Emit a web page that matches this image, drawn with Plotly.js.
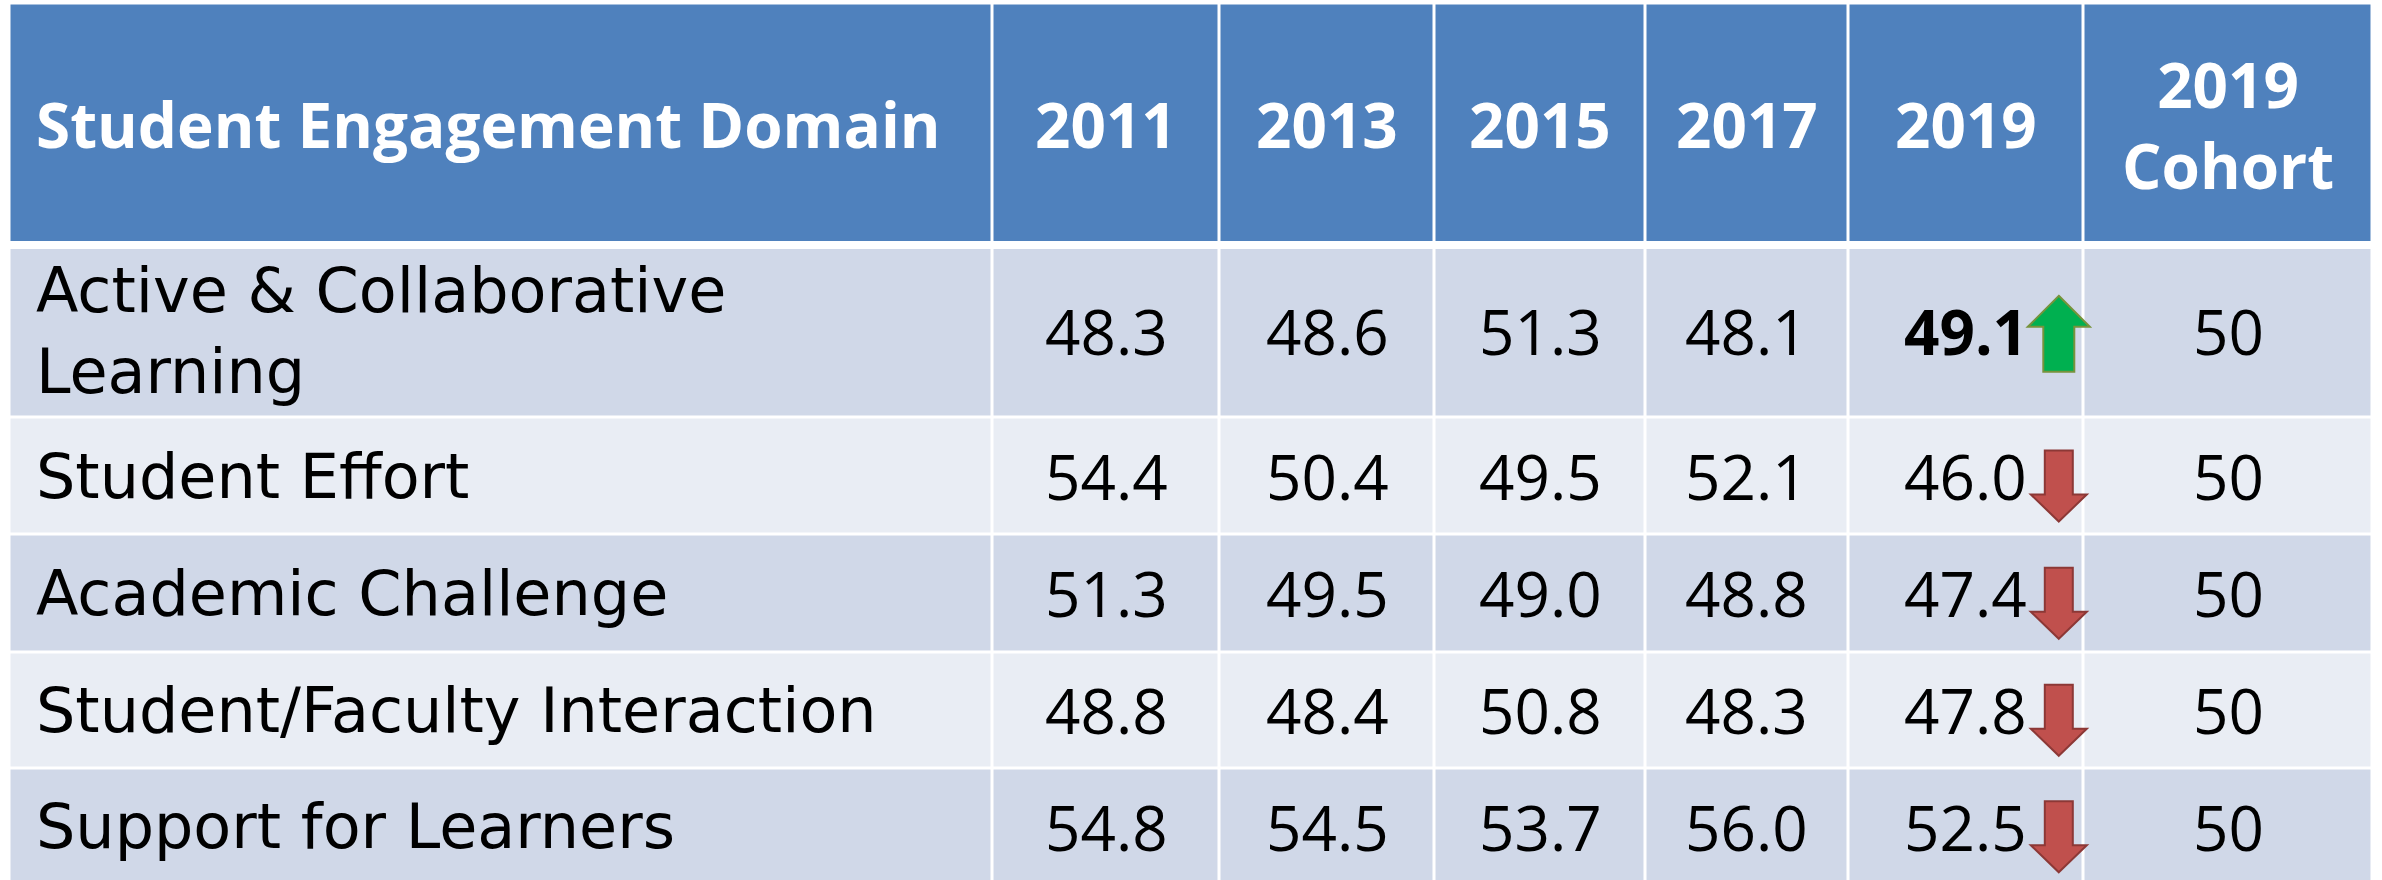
<!DOCTYPE html>
<html>
<head>
<meta charset="utf-8">
<script src="https://cdn.plot.ly/plotly-3.0.1.min.js"></script>
<style>html,body{margin:0;padding:0;background:#fff;overflow:hidden}</style>
</head>
<body>
<div id="chart" style="width:2382px;height:880px"></div>
<script>
// ---------- DATA ----------
const headerLabel = 'Student Engagement Domain';
const columnHeaders = ['2011', '2013', '2015', '2017', '2019', '2019<br>Cohort'];
const domains = [
  'Active & Collaborative<br>Learning',
  'Student Effort',
  'Academic Challenge',
  'Student/Faculty Interaction',
  'Support for Learners'
];
const v2011 = [48.3, 54.4, 51.3, 48.8, 54.8];
const v2013 = [48.6, 50.4, 49.5, 48.4, 54.5];
const v2015 = [51.3, 49.5, 49.0, 50.8, 53.7];
const v2017 = [48.1, 52.1, 48.8, 48.3, 56.0];
const v2019 = [49.1, 46.0, 47.4, 47.8, 52.5];
const cohort2019 = [50, 50, 50, 50, 50];
const trend2019 = ['up', 'down', 'down', 'down', 'down'];
const bold2019 = [true, false, false, false, false];

// ---------- GEOMETRY / STYLE ----------
const colEdges = [9.5, 992.5, 1219.5, 1434.5, 1645.5, 1848, 2083.5, 2372.5];
const rowEdges = [3.5, 245, 417.5, 534.5, 652, 768.5, 885];
const HEADER_BLUE = '#4F81BD', BAND1 = '#D0D8E8', BAND2 = '#E9EDF4';
const labelFont = {family: 'DejaVu Sans, sans-serif', size: 62, color: '#000000'};
const numFont = {family: 'Open Sans, sans-serif', size: 62, color: '#000000'};
const headFont = {family: 'Open Sans, sans-serif', size: 62, color: '#FFFFFF', weight: 700};

const valueCols = [v2011, v2013, v2015, v2017, v2019, cohort2019];
const nCols = valueCols.length + 1;
const nRows = domains.length + 1;

// style index grid: 0 header, 1 band1, 2 band2
const z = [];
for (let r = 0; r < nRows; r++) {
  const row = [];
  for (let c = 0; c < nCols; c++) row.push(r === 0 ? 0 : (r % 2 === 1 ? 1 : 2));
  z.push(row);
}

const cx = c => (colEdges[c] + colEdges[c + 1]) / 2;
const cy = r => (rowEdges[r] + rowEdges[r + 1]) / 2;

const annotations = [];
function ann(x, y, text, font, xanchor, yshift) {
  annotations.push({x: x, y: y, xref: 'x', yref: 'y', text: text, showarrow: false,
    xanchor: xanchor, yanchor: 'middle', align: xanchor === 'left' ? 'left' : 'center',
    font: font, yshift: yshift || 0});
}
// header
ann(34, cy(0), '<b>' + headerLabel + '</b>', headFont, 'left', 0);
columnHeaders.forEach((h, i) => ann(cx(i + 1), cy(0), '<b>' + h + '</b>', headFont, 'center', 0));
// body
domains.forEach((d, r) => {
  ann(34, cy(r + 1), d, labelFont, 'left', 0);
  valueCols.forEach((col, c) => {
    const isCohort = c === valueCols.length - 1;
    let t = isCohort ? col[r].toFixed(0) : col[r].toFixed(1);
    if (c === 4 && bold2019[r]) t = '<b>' + t + '</b>';
    ann(cx(c + 1), cy(r + 1), t, numFont, 'center', 0);
  });
});

// arrows for 2019 trend
const shapes = [
  {type: 'rect', xref: 'x', yref: 'y', x0: 0, x1: 2382, y0: 241, y1: 249,
   fillcolor: '#FFFFFF', line: {width: 0}, layer: 'above'}
];
const arrowDims = {
  up: {w: 62, sw: 31, h: 76, hh: 31, dy: 2.5, fill: '#00B050', line: '#77933C'},
  down: {w: 56, sw: 28, h: 71, hh: 27, dy: 10, fill: '#C0504D', line: '#8C3836'}
};
trend2019.forEach((t, r) => {
  const d = arrowDims[t];
  const x = cx(5) + 93;
  const y = cy(r + 1) + d.dy;
  const top = y - d.h / 2, bot = y + d.h / 2;
  let pts;
  if (t === 'up') {
    const hb = top + d.hh;
    pts = [[x, top], [x + d.w / 2, hb], [x + d.sw / 2, hb], [x + d.sw / 2, bot],
           [x - d.sw / 2, bot], [x - d.sw / 2, hb], [x - d.w / 2, hb]];
  } else {
    const hb = bot - d.hh;
    pts = [[x, bot], [x + d.w / 2, hb], [x + d.sw / 2, hb], [x + d.sw / 2, top],
           [x - d.sw / 2, top], [x - d.sw / 2, hb], [x - d.w / 2, hb]];
  }
  const path = 'M' + pts.map(p => p[0].toFixed(1) + ',' + p[1].toFixed(1)).join('L') + 'Z';
  shapes.push({type: 'path', xref: 'x', yref: 'y', path: path,
    fillcolor: d.fill, line: {color: d.line, width: 2}, layer: 'above'});
});

const trace = {
  type: 'heatmap', x: colEdges, y: rowEdges, z: z,
  zmin: 0, zmax: 2, showscale: false, hoverinfo: 'skip',
  colorscale: [[0, HEADER_BLUE], [0.5, BAND1], [1, BAND2]],
  xgap: 3, ygap: 3
};

const layout = {
  width: 2382, height: 880,
  margin: {l: 0, r: 0, t: 0, b: 0},
  paper_bgcolor: '#FFFFFF', plot_bgcolor: '#FFFFFF',
  xaxis: {range: [0, 2382], visible: false, fixedrange: true},
  yaxis: {range: [880, 0], visible: false, fixedrange: true},
  annotations: annotations,
  shapes: shapes,
  showlegend: false
};

Plotly.newPlot('chart', [trace], layout, {staticPlot: true, displayModeBar: false});
</script>
</body>
</html>
